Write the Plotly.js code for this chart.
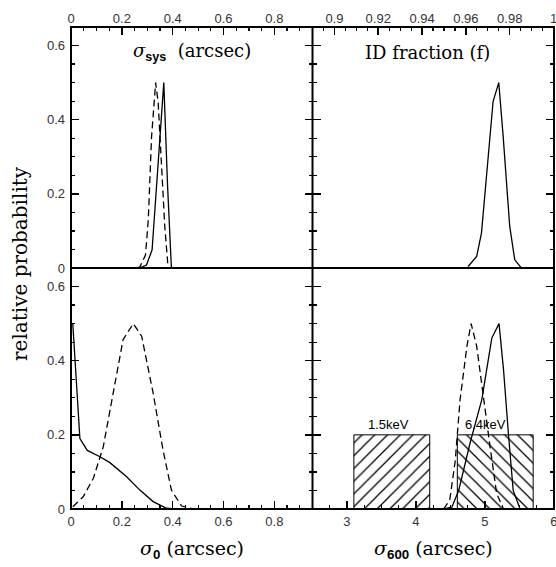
<!DOCTYPE html>
<html>
<head>
<meta charset="utf-8">
<script src="https://cdn.plot.ly/plotly-3.0.1.min.js"></script>
<style>html,body{margin:0;padding:0;background:#fff;}#chart{width:556px;height:567px;}</style>
</head>
<body>
<div id="chart"></div>
<script>
// ---- data ----
// top-left: sigma_sys (arcsec)
var sysSolidX = [0.27, 0.297, 0.319, 0.365, 0.38, 0.395];
var sysSolidY = [0, 0.008, 0.049, 0.50, 0.22, 0];
var sysDashX = [0.26, 0.271, 0.293, 0.304, 0.317, 0.333, 0.343, 0.356, 0.369, 0.382];
var sysDashY = [0, 0.003, 0.035, 0.13, 0.355, 0.50, 0.445, 0.265, 0.112, 0];
// top-right: ID fraction (f)
var fracX = [0.961, 0.9649, 0.9671, 0.9724, 0.975, 0.977, 0.980, 0.9823, 0.9853];
var fracY = [0.004, 0.031, 0.094, 0.449, 0.50, 0.355, 0.112, 0.022, 0];
// bottom-left: sigma_0 (arcsec)
var s0SolidX = [0.007, 0.035, 0.064, 0.114, 0.153, 0.219, 0.271, 0.323, 0.376, 0.41];
var s0SolidY = [0.50, 0.19, 0.158, 0.141, 0.125, 0.087, 0.051, 0.02, 0.002, 0];
var s0DashX = [0.007, 0.048, 0.088, 0.127, 0.166, 0.205, 0.245, 0.278, 0.323, 0.362, 0.395, 0.435, 0.48];
var s0DashY = [0.006, 0.033, 0.083, 0.168, 0.313, 0.457, 0.50, 0.466, 0.313, 0.159, 0.051, 0.008, 0];
// bottom-right: sigma_600 (arcsec)
var s600SolidX = [4.40, 4.52, 4.62, 4.785, 4.955, 5.10, 5.205, 5.27, 5.34, 5.41, 5.51];
var s600SolidY = [0, 0.005, 0.05, 0.178, 0.295, 0.461, 0.50, 0.376, 0.205, 0.05, 0];
var s600DashX = [4.40, 4.49, 4.57, 4.64, 4.74, 4.80, 4.88, 4.955, 5.075, 5.17, 5.27];
var s600DashY = [0, 0.024, 0.13, 0.295, 0.44, 0.50, 0.44, 0.33, 0.168, 0.042, 0];
// energy bands (hatched boxes)
var bandLabels = ['1.5keV', '6.4keV'];
var bandCenters = [3.65, 5.15];
var bandWidths = [1.1, 1.1];
var bandHeights = [0.2, 0.2];
var bandLabelX = [3.27, 4.68];

// ---- styling ----
var tickFont = {family: 'Liberation Sans, Arial, sans-serif', size: 13, color: '#333'};
var serif = 'DejaVu Serif, serif';
var solid = {color: '#000', width: 1.3};
var dashed = {color: '#000', width: 1.3, dash: '7px,4px'};

function line(x, y, ln, xa, ya) {
  return {type: 'scatter', mode: 'lines', x: x, y: y, line: ln, xaxis: xa, yaxis: ya,
          hoverinfo: 'skip', showlegend: false};
}

var traces = [
  {type: 'bar', x: bandCenters, y: bandHeights, width: bandWidths, xaxis: 'x2', yaxis: 'y3',
   showlegend: false, hoverinfo: 'skip',
   marker: {color: 'rgba(255,255,255,0)', line: {color: '#000', width: 1},
            pattern: {shape: ['/', '\\'], size: 9, solidity: 0.14, fgcolor: '#000', fgopacity: 1,
                      bgcolor: 'rgba(255,255,255,0)', fillmode: 'overlay'}}},
  line(sysDashX, sysDashY, dashed, 'x3', 'y2'),
  line(sysSolidX, sysSolidY, solid, 'x3', 'y2'),
  line(fracX, fracY, solid, 'x4', 'y4'),
  line(s0DashX, s0DashY, dashed, 'x', 'y'),
  line(s0SolidX, s0SolidY, solid, 'x', 'y'),
  line(s600DashX, s600DashY, dashed, 'x2', 'y3'),
  line(s600SolidX, s600SolidY, solid, 'x2', 'y3')
];

function xaxis(domain, range, anchor, side, dtick, mdtick) {
  return {domain: domain, range: range, anchor: anchor, side: side,
          showline: false, mirror: false, ticklabeloverflow: 'allow',
          ticklabelstandoff: side === 'bottom' ? 3 : 0,
          ticks: 'inside', ticklen: 8, tickwidth: 1.5, tickcolor: '#000',
          dtick: dtick, tick0: 0, tickfont: tickFont,
          minor: {dtick: mdtick, ticks: 'inside', ticklen: 4, tickwidth: 1.2, tickcolor: '#000'},
          showgrid: false, zeroline: false, fixedrange: true};
}
function yaxis(domain, anchor, labels) {
  return {domain: domain, range: [0, 0.65], anchor: anchor,
          showline: false, mirror: 'ticks', ticklabeloverflow: 'allow', ticklabelstandoff: 5,
          ticks: 'inside', ticklen: 8, tickwidth: 1.5, tickcolor: '#000',
          dtick: 0.2, tick0: 0, tickfont: tickFont, showticklabels: labels,
          minor: {dtick: 0.05, ticks: 'inside', ticklen: 4, tickwidth: 1.2, tickcolor: '#000'},
          showgrid: false, zeroline: false, fixedrange: true};
}

var ann = function (text, x, y, size, opts) {
  return Object.assign({text: text, x: x, y: y, xref: 'paper', yref: 'paper', showarrow: false,
                        xanchor: 'center', yanchor: 'middle',
                        font: {family: serif, size: size, color: '#000'}}, opts || {});
};
var subStyle = 'font-family:Liberation Sans, Arial, sans-serif';
var frame = {color: '#000', width: 2};

var layout = {
  width: 556, height: 567,
  margin: {l: 71, r: 2, t: 27, b: 58},
  paper_bgcolor: '#fff', plot_bgcolor: '#fff',
  showlegend: false, barmode: 'overlay',
  xaxis: xaxis([0, 0.5], [0, 0.95], 'y', 'bottom', 0.2, 0.05),
  xaxis2: xaxis([0.5, 1], [2.5, 6.002], 'y3', 'bottom', 1, 0.25),
  xaxis3: xaxis([0, 0.5], [0, 0.95], 'y2', 'top', 0.2, 0.05),
  xaxis4: xaxis([0.5, 1], [0.89, 1.0002], 'y4', 'top', 0.02, 0.005),
  yaxis: yaxis([0, 0.5], 'x', true),
  yaxis2: yaxis([0.5, 1], 'x3', true),
  yaxis3: yaxis([0, 0.5], 'x2', false),
  yaxis4: yaxis([0.5, 1], 'x4', false),
  shapes: [
    {type: 'rect', xref: 'paper', yref: 'paper', x0: 0, x1: 1, y0: 0, y1: 1, line: frame, layer: 'above'},
    {type: 'line', xref: 'paper', yref: 'paper', x0: 0.5, x1: 0.5, y0: 0, y1: 1, line: frame, layer: 'above'},
    {type: 'line', xref: 'paper', yref: 'paper', x0: 0, x1: 1, y0: 0.5, y1: 0.5, line: frame, layer: 'above'}
  ],
  annotations: [
    ann('<i>σ</i><sub><b><span style="' + subStyle + '">sys</span></b></sub>  (arcsec)', 0.25, 0.948, 18),
    ann('ID fraction (f)', 0.738, 0.948, 18),
    ann('<i>σ</i><sub><b><span style="' + subStyle + '">0</span></b></sub> (arcsec)', 0.25, -0.083, 19),
    ann('<i>σ</i><sub><b><span style="' + subStyle + '">600</span></b></sub> (arcsec)', 0.75, -0.083, 19),
    ann('relative probability', -0.106, 0.51, 20, {textangle: -90}),
    {text: bandLabels[0], x: bandLabelX[0], y: 0.227, xref: 'x2', yref: 'y3', showarrow: false,
     xanchor: 'left', yanchor: 'middle', font: {family: 'Liberation Sans, Arial, sans-serif', size: 13, color: '#000'}},
    {text: bandLabels[1], x: bandLabelX[1], y: 0.227, xref: 'x2', yref: 'y3', showarrow: false,
     xanchor: 'left', yanchor: 'middle', font: {family: 'Liberation Sans, Arial, sans-serif', size: 13, color: '#000'}}
  ]
};

Plotly.newPlot('chart', traces, layout, {displayModeBar: false, staticPlot: true});
</script>
</body>
</html>
